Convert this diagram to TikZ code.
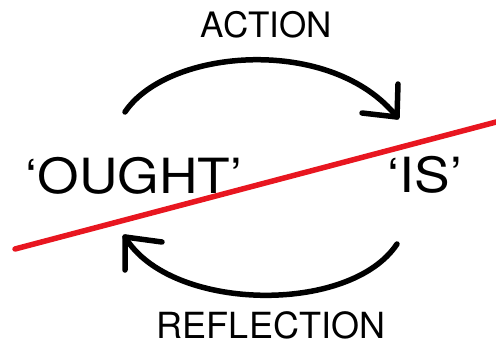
\documentclass[tikz,border=0pt]{standalone}
\usepackage{fontspec}
\setmainfont{TeX Gyre Heros}
\definecolor{lineRed}{RGB}{232,22,32}
\begin{document}
\begin{tikzpicture}[x=1pt,y=-1pt,
  arc/.style={line width=5.5pt,line cap=round,line join=round,black},
  redline/.style={line width=5.5pt,line cap=round,lineRed},
  small/.style={font=\fontsize{35}{40}\selectfont,inner sep=0pt,anchor=base},
  big/.style={font=\fontsize{48.5}{55}\selectfont,inner sep=0pt,anchor=base,xscale=1.1,transform shape}]
\useasboundingbox (0,0) rectangle (496,343);
% labels
\node[small] (action) at (266.5,37) {ACTION};
\node[small,font=\fontsize{36}{40}\selectfont] (reflection) at (271,338.5) {REFLECTION};
\node[big] (ought) at (134,193) {‘OUGHT’};
\node[big] (is) at (425,192) {‘IS’};
% coordinates of arcs
\coordinate (a1) at (125,112);
\coordinate (a2) at (397,117);
\coordinate (b1) at (397,244);
\coordinate (b2) at (125,237);
% top arc with open head
\draw[arc] (a1) .. controls (168,48) and (332,35) .. (a2);
\draw[arc] (398,84) -- (a2) -- (362,113);
% bottom arc with open head
\draw[arc] (b1) .. controls (350,315) and (170,312) .. (b2);
\draw[arc] (125,270) -- (b2) -- (162,242);
% red line
\coordinate (r1) at (15,249);
\coordinate (r2) at (500,121);
\draw[redline] (r1) -- (r2);
\end{tikzpicture}
\end{document}
